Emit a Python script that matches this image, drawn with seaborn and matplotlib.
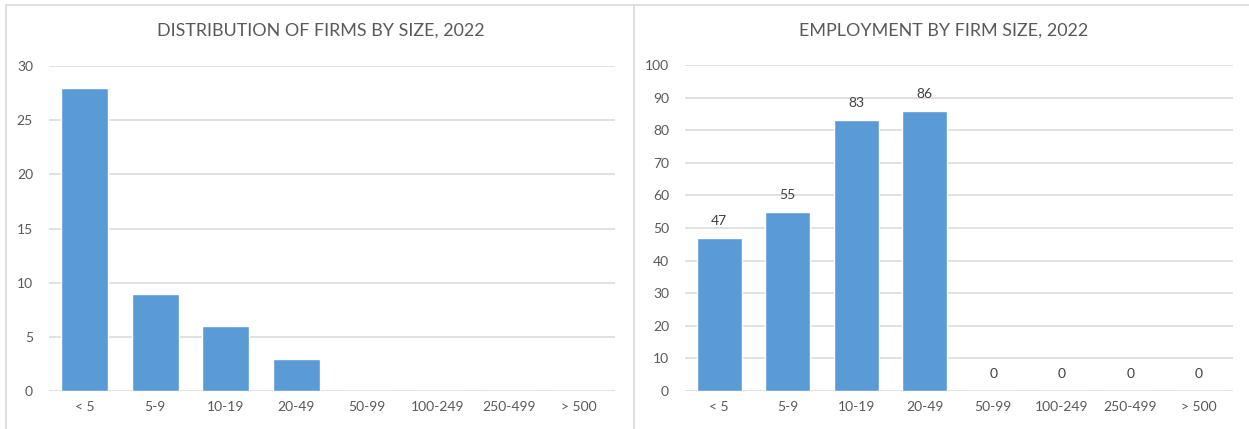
import matplotlib
matplotlib.use("Agg")
import matplotlib.pyplot as plt
import seaborn as sns
import pandas as pd
from matplotlib.lines import Line2D

# Firm-size bands shared by both panels
size_bands = ["< 5", "5-9", "10-19", "20-49", "50-99", "100-249", "250-499", "> 500"]
# Number of firms in each size band
firm_counts = [28, 9, 6, 3, 0, 0, 0, 0]
# Employment in each size band
employment = [47, 55, 83, 86, 0, 0, 0, 0]

firms_title = "DISTRIBUTION OF FIRMS BY SIZE, 2022"
employment_title = "EMPLOYMENT BY FIRM SIZE, 2022"
firms_ticks = [0, 5, 10, 15, 20, 25, 30]
employment_ticks = [0, 10, 20, 30, 40, 50, 60, 70, 80, 90, 100]

sns.set_theme(style="white")
plt.rcParams["font.family"] = ["Lato", "DejaVu Sans"]

BAR = "#5B9BD5"
GRID = "#D9D9D9"
TEXT = "#595959"
LABEL = "#404040"
BORDER = "#D9D9D9"

fig = plt.figure(figsize=(12.49, 4.29), dpi=100)
W, H = 1249, 429

def place(x0, x1, ytop, ybot):
    return [x0 / W, 1 - ybot / H, (x1 - x0) / W, (ybot - ytop) / H]

ax1 = fig.add_axes(place(49, 614.6, 66, 391))
ax2 = fig.add_axes(place(685, 1233, 65, 391))

df_firms = pd.DataFrame({"band": size_bands, "value": firm_counts})
df_emp = pd.DataFrame({"band": size_bands, "value": employment})

sns.barplot(data=df_firms, x="band", y="value", order=size_bands, color=BAR,
            saturation=1, width=0.665, ax=ax1, zorder=3)
sns.barplot(data=df_emp, x="band", y="value", order=size_bands, color=BAR,
            saturation=1, width=0.66, ax=ax2, zorder=3)

for ax, ticks in ((ax1, firms_ticks), (ax2, employment_ticks)):
    ax.set_ylim(ticks[0], ticks[-1])
    ax.set_yticks(ticks)
    ax.set_xlim(-0.5, len(size_bands) - 0.5)
    ax.set_xlabel("")
    ax.set_ylabel("")
    for s in ax.spines.values():
        s.set_visible(False)
    ax.grid(axis="y", color=GRID, linewidth=1.1, zorder=0)
    ax.set_axisbelow(True)
    ax.tick_params(axis="both", length=0, labelsize=10, colors=TEXT)
    ax.tick_params(axis="y", pad=11.5)
    ax.tick_params(axis="x", pad=7)
    ax.patch.set_alpha(0)

for c in ax2.containers:
    ax2.bar_label(c, labels=[str(v) for v in employment], padding=8,
                  fontsize=10, color=LABEL)

# Panel frames
fig.add_artist(Line2D([5.5 / W, 5.5 / W], [0, 1 - 4.5 / H], transform=fig.transFigure,
                      color=BORDER, linewidth=1.2))
fig.add_artist(Line2D([634.5 / W, 634.5 / W], [0, 1 - 4.5 / H], transform=fig.transFigure,
                      color=BORDER, linewidth=1.2))
fig.add_artist(Line2D([5.5 / W, 1], [1 - 4.5 / H, 1 - 4.5 / H], transform=fig.transFigure,
                      color=BORDER, linewidth=1.2))

fig.text(321 / W, 1 - 31 / H, firms_title, ha="center", va="center",
         fontsize=12.9, color=TEXT)
fig.text(944 / W, 1 - 31 / H, employment_title, ha="center", va="center",
         fontsize=12.9, color=TEXT)

fig.savefig("out.png", dpi=100, facecolor="white")
